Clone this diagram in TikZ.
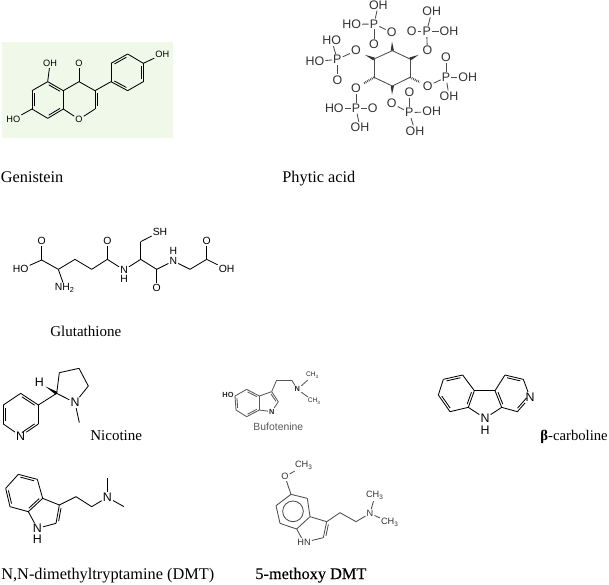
\documentclass[tikz,border=0pt]{standalone}
\usepackage{fontspec}
\setmainfont{Liberation Serif}
\setsansfont{Liberation Sans}
\newfontfamily\heavyserif[FakeBold=.2]{Liberation Serif}
\usetikzlibrary{calc}
\definecolor{paleleaf}{RGB}{239,248,233}

% bond helpers, clockwise round the ring puts the inner line inside
\newcommand{\dbond}[3][-1.1pt]{\draw[bond] ($(#2)!.14!(#3)!#1!90:(#3)$) -- ($(#3)!.14!(#2)!#1!-90:(#2)$);}
\newcommand{\wbond}[2]{\fill[black!80] ($(#1)!.8pt!90:(#2)$) -- ($(#1)!-.8pt!90:(#2)$) -- ($(#1)!.5!(#2)$) -- cycle;}
\newcommand{\hbond}[2]{\draw[black!80,line width=1.1pt,dash pattern=on .35pt off .55pt] (#1) -- ($(#1)!.55!(#2)$);}

\begin{document}
\begin{tikzpicture}[x=.5pt,y=-.5pt,
    bond/.style={line width=.42pt},
    dbl/.style={line width=.35pt,double,double distance=.85pt},
    atom/.style={inner sep=.4pt,font=\sffamily\fontsize{6.2}{6.2}\selectfont},
    smallatom/.style={atom,font=\sffamily\fontsize{5.2}{5.2}\selectfont},
    tinyatom/.style={atom,font=\sffamily\fontsize{4.6}{4.6}\selectfont},
    caption/.style={anchor=base west,inner sep=0pt,font=\fontsize{8.15}{9}\selectfont},
    smallcaption/.style={caption,font=\fontsize{7.5}{9}\selectfont},
    zoomed/.style={x=.16667pt,y=-.16667pt}]
  \useasboundingbox (0,0) rectangle (609,584);
  \fill[white] (0,0) rectangle (609,584);

  % Genistein
  \fill[paleleaf] (2,42) rectangle (173,138);
  \begin{scope}[shift={(0,30)},zoomed]
    \foreach \n/\x/\y in {a1/143/155,a2/190/182,a3/190/237,a4/143/265,a5/96/237,a6/96/182,
        c4/237/155,c3/285/182,c2/285/237,b1/333/155,b2/333/100,b3/383/72,b4/430/100,b5/430/155,b6/383/182}
      \coordinate (g\n) at (\x,\y);
    \node[tinyatom](goh1) at (150,101) {OH};
    \node[tinyatom](goh2) at (40,268) {HO};
    \node[tinyatom](goh3) at (487,73) {OH};
    \node[tinyatom](gox) at (237,100) {O};
    \node[tinyatom](gor) at (237,268) {O};
    \path[bond] (ga1) edge (ga2) (ga2) edge (ga3) (ga3) edge (ga4) (ga4) edge (ga5) (ga5) edge (ga6) (ga6) edge (ga1)
      (ga1) edge (goh1) (ga5) edge (goh2) (ga2) edge (gc4) (gc4) edge (gc3) (gc3) edge (gc2)
      (gc2) edge (gor) (gor) edge (ga3) (gc3) edge (gb1) (gb1) edge (gb2) (gb2) edge (gb3)
      (gb3) edge (gb4) (gb4) edge (gb5) (gb5) edge (gb6) (gb6) edge (gb1) (gb4) edge (goh3);
    \path[dbl,double=paleleaf] (gc4) edge (gox);
    \dbond{ga1}{ga2} \dbond{ga3}{ga4} \dbond{ga5}{ga6} \dbond[1.1pt]{gc3}{gc2}
    \dbond{gb2}{gb3} \dbond{gb4}{gb5} \dbond{gb6}{gb1}
  \end{scope}

  % Phytic acid
  \begin{scope}[shift={(300,0)},zoomed]
    \foreach \n/\x/\y in {r1/222/177,r2/277/152,r3/330/177,r4/330/232,r5/277/258,r6/222/232}
      \coordinate (p\n) at (\x,\y);
    \foreach \n/\t/\x/\y in {o1/O/168/152,p1/P/112/178,ha/HO/95/122,hb/HO/45/185,d1/O/112/240,
        o2/O/275/97,p2/P/222/72,hc/OH/235/15,hd/HO/155/73,d2/O/222/133,
        o3/O/382/152,p3/P/380/95,he/OH/395/35,d3/O/335/95,hf/OH/447/95,
        o4/O/383/258,p4/P/438/232,d4/O/438/172,hg/OH/503/232,hh/OH/447/288,
        o5/O/275/310,p5/P/328/338,d5/O/328/277,hi/OH/395/335,hj/OH/345/393,
        o6/O/168/265,p6/P/168/325,hk/HO/103/325,d6/O/218/325,hl/OH/180/383}
      \node[atom,text=black!80](p\n) at (\x,\y) {\t};
    \path[bond,draw=black!70] (pr1) edge (pr2) (pr2) edge (pr3) (pr3) edge (pr4) (pr4) edge (pr5) (pr5) edge (pr6) (pr6) edge (pr1)
      (po1) edge (pp1) (pp1) edge (pha) (pp1) edge (phb)
      (po2) edge (pp2) (pp2) edge (phc) (pp2) edge (phd)
      (po3) edge (pp3) (pp3) edge (phe) (pp3) edge (phf)
      (po4) edge (pp4) (pp4) edge (phg) (pp4) edge (phh)
      (po5) edge (pp5) (pp5) edge (phi) (pp5) edge (phj)
      (po6) edge (pp6) (pp6) edge (phk) (pp6) edge (phl);
    \path[dbl,draw=black!70] (pp1) edge (pd1) (pp2) edge (pd2) (pp3) edge (pd3) (pp4) edge (pd4) (pp5) edge (pd5) (pp6) edge (pd6);
    \wbond{pr1}{po1} \wbond{pr2}{po2} \wbond{pr3}{po3} \wbond{pr5}{po5}
    \hbond{pr4}{po4} \hbond{pr6}{po6}
  \end{scope}

  % Glutathione
  \begin{scope}[shift={(0,205)},zoomed]
    \foreach \n/\x/\y in {c1/125/165,c2/175/193,c3/225/163,c4/275/193,c5/322/163,c6/422/163,c7/422/110,c8/470/193,c9/570/193,c10/620/163}
      \coordinate (t\n) at (\x,\y);
    \foreach \n/\t/\x/\y in {ho/HO/62/193,o1/O/125/108,o2/O/322/108,n1/N/372/195,h1/H/372/223,sh/SH/480/80,
        o3/O/470/250,n2/N/520/168,h2/H/520/138,o4/O/620/108,oh/OH/680/193}
      \node[smallatom](t\n) at (\x,\y) {\t};
    \node[smallatom](tnh) at (195,250) {NH\textsubscript{2}};
    \path[bond] (tho) edge (tc1) (tc1) edge (tc2) (tc2) edge (tnh) (tc2) edge (tc3) (tc3) edge (tc4) (tc4) edge (tc5)
      (tc5) edge (tn1) (tn1) edge (tc6) (tc6) edge (tc7) (tc7) edge (tsh) (tc6) edge (tc8) (tc8) edge (tn2)
      (tn2) edge (tc9) (tc9) edge (tc10) (tc10) edge (toh);
    \path[dbl] (tc1) edge (to1) (tc5) edge (to2) (tc8) edge (to3) (tc10) edge (to4);
  \end{scope}

  % Nicotine
  \begin{scope}[shift={(0,350)},zoomed]
    \foreach \n/\x/\y in {a1/115/165,a2/115/222,a4/10/222,a5/10/165,a6/62/130,c1/170/130,c2/178/68,c3/237/55,c4/265/108,me/238/218}
      \coordinate (n\n) at (\x,\y);
    \node[atom](nn1) at (62,258) {N};
    \node[atom](nn2) at (225,158) {N};
    \node[atom](nh) at (118,98) {H};
    \path[bond] (na1) edge (na2) (na2) edge (nn1) (nn1) edge (na4) (na4) edge (na5) (na5) edge (na6) (na6) edge (na1)
      (na1) edge (nc1) (nc1) edge (nc2) (nc2) edge (nc3) (nc3) edge (nc4) (nc4) edge (nn2) (nn2) edge (nc1) (nn2) edge (nme);
    \dbond{na6}{na1} \dbond{na2}{nn1} \dbond{na4}{na5}
    \fill ($(nc1)!.8pt!90:(nh)$) -- ($(nc1)!-.8pt!90:(nh)$) -- ($(nc1)!.65!(nh)$) -- cycle;
  \end{scope}

  % Bufotenine
  \begin{scope}[shift={(210,360)},zoomed]
    \foreach \n/\x/\y in {a1/75/108,a2/110/88,a3/148/108,a4/148/150,a5/110/170,a6/78/150,c1/185/95,c2/205/125,c3/200/60,c4/245/60}
      \coordinate (u\n) at (\x,\y);
    \node[tinyatom,font=\sffamily\bfseries\fontsize{3.7}{4}\selectfont,text=black!85](uho) at (54,105) {HO};
    \node[tinyatom,font=\sffamily\bfseries\fontsize{3.7}{4}\selectfont,text=black!85](unr) at (185,155) {N};
    \node[tinyatom,font=\sffamily\bfseries\fontsize{3.7}{4}\selectfont,text=black!85](un) at (262,88) {N};
    \node[tinyatom,font=\sffamily\fontsize{3.3}{4}\selectfont,text=black!85](ume1) at (308,47) {CH\textsubscript{3}};
    \node[tinyatom,font=\sffamily\fontsize{3.3}{4}\selectfont,text=black!85](ume2) at (313,125) {CH\textsubscript{3}};
    \node[tinyatom,font=\sffamily\fontsize{5.2}{6}\selectfont,text=black!65](ucap) at (205,200) {Bufotenine};
    \path[bond,draw=black!65] (ua1) edge (ua2) (ua2) edge (ua3) (ua3) edge (ua4) (ua4) edge (ua5) (ua5) edge (ua6) (ua6) edge (ua1)
      (ua1) edge (uho) (ua3) edge (uc1) (uc1) edge (uc2) (uc2) edge (unr) (unr) edge (ua4)
      (uc1) edge (uc3) (uc3) edge (uc4) (uc4) edge (un) (un) edge (ume1) (un) edge (ume2);
    \begin{scope}[black!65]
      \dbond[-.9pt]{ua2}{ua3} \dbond[-.9pt]{ua4}{ua5} \dbond[-.9pt]{ua6}{ua1} \dbond[-.9pt]{uc1}{uc2}
    \end{scope}
  \end{scope}

  % beta-carboline
  \begin{scope}[shift={(430,360)},zoomed]
    \foreach \n/\x/\y in {a1/133/92,a2/98/45,a3/40/58,a4/25/105,a5/60/155,a6/115/142,
        b1/195/92,b2/225/45,b3/280/58,b5/262/155,b6/215/142}
      \coordinate (k\n) at (\x,\y);
    \node[atom](kn1) at (300,112) {N};
    \node[atom](kn2) at (165,175) {N};
    \node[atom](kh) at (165,210) {H};
    \path[bond] (ka1) edge (ka2) (ka2) edge (ka3) (ka3) edge (ka4) (ka4) edge (ka5) (ka5) edge (ka6) (ka6) edge (ka1)
      (ka1) edge (kb1) (kb1) edge (kb2) (kb2) edge (kb3) (kb3) edge (kn1) (kn1) edge (kb5) (kb5) edge (kb6) (kb6) edge (kb1)
      (ka6) edge (kn2) (kn2) edge (kb6);
    \dbond[1.1pt]{ka2}{ka3} \dbond[1.1pt]{ka4}{ka5} \dbond[1.1pt]{ka6}{ka1} \dbond{kb2}{kb3} \dbond{kn1}{kb5} \dbond{kb6}{kb1}
  \end{scope}

  % DMT
  \begin{scope}[shift={(0,460)},zoomed]
    \foreach \n/\x/\y in {a1/55/43,a2/112/58,a3/128/115,a4/85/155,a5/30/140,a6/17/85,c1/178/135,c2/168/190,c3/228/110,c4/275/140,m1/322/55,m2/372/140}
      \coordinate (d\n) at (\x,\y);
    \node[atom](dn1) at (112,205) {N};
    \node[atom](dh) at (112,238) {H};
    \node[atom](dn2) at (322,112) {N};
    \path[bond] (da1) edge (da2) (da2) edge (da3) (da3) edge (da4) (da4) edge (da5) (da5) edge (da6) (da6) edge (da1)
      (da3) edge (dc1) (dc1) edge (dc2) (dc2) edge (dn1) (dn1) edge (da4) (dc1) edge (dc3) (dc3) edge (dc4)
      (dc4) edge (dn2) (dn2) edge (dm1) (dn2) edge (dm2);
    \dbond{da1}{da2} \dbond{da3}{da4} \dbond{da5}{da6} \dbond[1.1pt]{dc1}{dc2}
  \end{scope}

  % 5-methoxy DMT
  \begin{scope}[shift={(230,455)},zoomed]
    \foreach \n/\x/\y in {a1/183/118,a2/232/130,a3/240/185,a4/200/222,a5/150/205,a6/138/152,
        c1/290/200,c2/280/248,c3/330/173,c4/378/200,cen/189/169}
      \coordinate (m\n) at (\x,\y);
    \node[tinyatom,text=black!80](mo) at (165,65) {O};
    \node[tinyatom,text=black!80](mch1) at (222,32) {CH\textsubscript{3}};
    \node[tinyatom,text=black!80](mhn) at (222,262) {HN};
    \node[tinyatom,text=black!80](mn) at (420,175) {N};
    \node[tinyatom,text=black!80](mch2) at (435,122) {CH\textsubscript{3}};
    \node[tinyatom,text=black!80](mch3) at (480,203) {CH\textsubscript{3}};
    \path[bond,draw=black!70] (ma1) edge (ma2) (ma2) edge (ma3) (ma3) edge (ma4) (ma4) edge (ma5) (ma5) edge (ma6) (ma6) edge (ma1)
      (ma1) edge (mo) (mo) edge (mch1) (ma3) edge (mc1) (mc1) edge (mc2) (mc2) edge (mhn) (mhn) edge (ma4)
      (mc1) edge (mc3) (mc3) edge (mc4) (mc4) edge (mn) (mn) edge (mch2) (mn) edge (mch3);
    \begin{scope}[black!70]
      \dbond[1.1pt]{mc1}{mc2}
      \draw[bond] (mcen) circle[radius=31];
    \end{scope}
  \end{scope}

  % captions
  \node[caption](genistein) at (.5,182) {Genistein};
  \node[caption](phytic) at (282,182) {Phytic acid};
  \node[smallcaption](glutathione) at (50,336) {Glutathione};
  \node[smallcaption](nicotine) at (90,440) {Nicotine};
  \node[smallcaption,font=\fontsize{7.35}{9}\selectfont](carboline) at (540,440) {\textbf{β}-carboline};
  \node[caption](dmtname) at (1,579) {N,N-dimethyltryptamine (DMT)};
  \node[caption,font=\heavyserif\fontsize{8.15}{9}\selectfont](methoxy) at (255,579) {5-methoxy DMT};
\end{tikzpicture}
\end{document}
